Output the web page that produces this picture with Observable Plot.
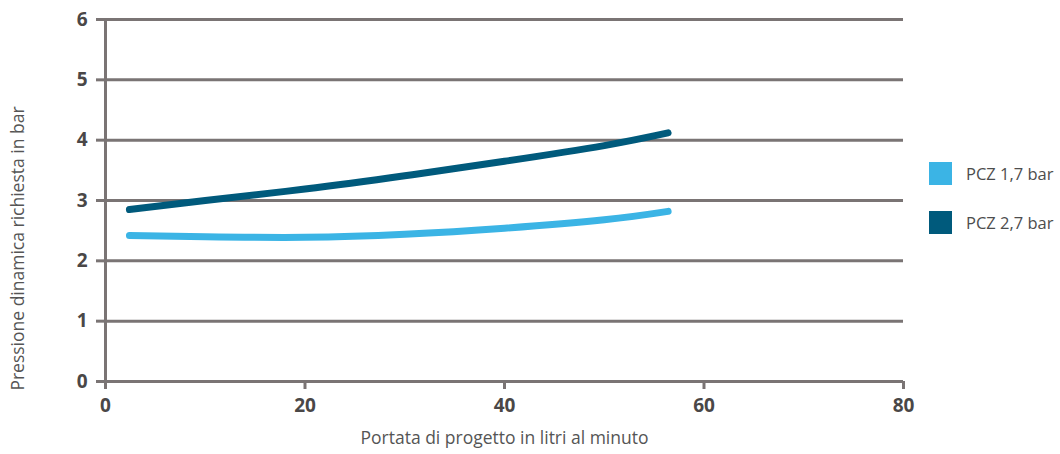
<!DOCTYPE html>
<html>
<head>
<meta charset="utf-8">
<script src="https://cdn.jsdelivr.net/npm/d3@7"></script>
<script src="https://cdn.jsdelivr.net/npm/@observablehq/plot@0.6"></script>
<style>
  html, body { margin: 0; padding: 0; background: #fff; }
  #wrap { position: relative; width: 1060px; height: 454px; font-family: "Open Sans", "DejaVu Sans", sans-serif; }
  #legend { position: absolute; left: 929px; top: 162px; }
  .item { display: flex; align-items: center; height: 23px; margin-bottom: 26px; font-size: 16.5px; color: #4d4d4d; }
  .sw { width: 23px; height: 23px; margin-right: 14px; }
</style>
</head>
<body>
<div id="wrap"></div>
<script>
const series = ["PCZ 1,7 bar", "PCZ 2,7 bar"];
const colors = ["#3bb4e5", "#005a7c"];
const flow = [2.4, 10, 20, 30, 40, 50, 56.4];
const pcz17 = [2.42, 2.40, 2.39, 2.44, 2.54, 2.68, 2.82];
const pcz27 = [2.85, 3.00, 3.19, 3.41, 3.65, 3.91, 4.12];
const yTicks = [0, 1, 2, 3, 4, 5, 6];
const xTicks = [0, 20, 40, 60, 80];
const xTitle = "Portata di progetto in litri al minuto";
const yTitle = "Pressione dinamica richiesta in bar";

const data = [];
flow.forEach((f, i) => {
  data.push({x: f, y: pcz17[i], s: series[0]});
  data.push({x: f, y: pcz27[i], s: series[1]});
});

const grey = "#7a7474";
const tickText = "#4a4747";
const chart = Plot.plot({
  width: 1060,
  height: 454,
  marginLeft: 105,
  marginRight: 157,
  marginTop: 19,
  marginBottom: 73,
  style: {fontFamily: "'Open Sans', 'DejaVu Sans', sans-serif", background: "#fff"},
  x: {domain: [0, 80]},
  y: {domain: [0, 6]},
  color: {domain: series, range: colors},
  marks: [
    Plot.ruleY(yTicks, {stroke: grey, strokeWidth: 3}),
    Plot.ruleX([0], {stroke: grey, strokeWidth: 3}),
    Plot.axisY({ticks: yTicks, tickFormat: d => String(d), tickSize: 9, stroke: grey, strokeWidth: 3, tickPadding: 9,
      fontSize: 19, fontWeight: "bold", fill: tickText, label: null}),
    Plot.axisX({ticks: xTicks, tickFormat: d => String(d), tickSize: 8, stroke: grey, strokeWidth: 3, tickPadding: 9,
      fontSize: 19, fontWeight: "bold", fill: tickText, label: null}),
    Plot.text([xTitle], {frameAnchor: "bottom", dy: 62, text: d => d, fontSize: 17.5, fill: "#555", textAnchor: "middle"}),
    Plot.text([yTitle], {frameAnchor: "left", dx: -87, dy: 48, rotate: -90, text: d => d, fontSize: 17.5, fill: "#555", textAnchor: "middle"}),
    Plot.line(data, {x: "x", y: "y", z: "s", stroke: "s", strokeWidth: 7, strokeLinecap: "round", curve: "natural"})
  ]
});
const wrap = document.getElementById("wrap");
wrap.appendChild(chart);
const legend = document.createElement("div");
legend.id = "legend";
series.forEach((s, i) => {
  const it = document.createElement("div");
  it.className = "item";
  it.innerHTML = `<span class="sw" style="background:${colors[i]}"></span><span>${s}</span>`;
  legend.appendChild(it);
});
wrap.appendChild(legend);
</script>
</body>
</html>
